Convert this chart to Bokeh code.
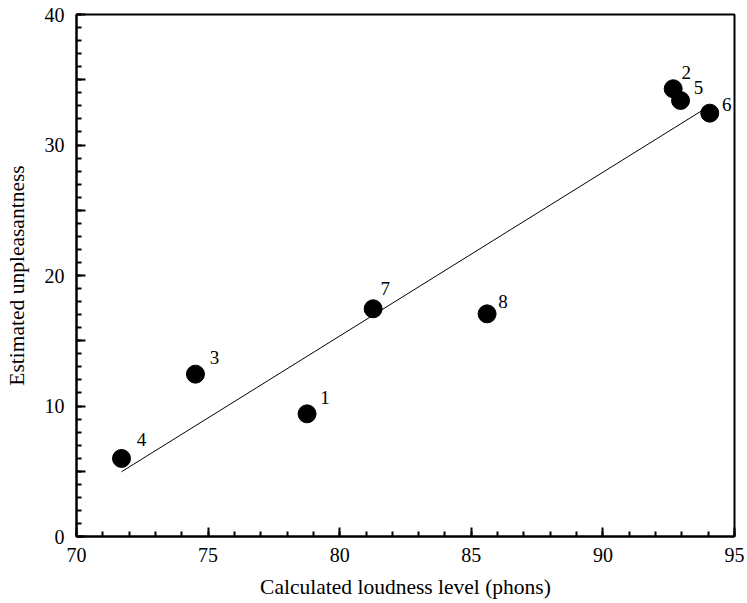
import numpy as np
from bokeh.plotting import figure
from bokeh.models import ColumnDataSource, SingleIntervalTicker, Range1d
from bokeh.core.properties import value
from bokeh.embed import file_html
from bokeh.resources import INLINE

# Calculated loudness level (phons) vs. estimated unpleasantness for eight sounds
sound_ids = ["1", "2", "3", "4", "5", "6", "7", "8"]
loudness = [78.76, 92.67, 74.52, 71.71, 92.95, 94.06, 81.27, 85.60]
unpleasantness = [9.40, 34.31, 12.44, 5.98, 33.41, 32.44, 17.45, 17.06]

# label offsets (screen pixels, right / up) for each numbered point
label_dx = [18, 13, 19, 20, 18, 17, 12, 16]
label_dy = [16, 16, 17, 19, 13, 9, 20, 12]

y_tick_labels = {0: "0", 10: "10", 20: "20", 30: "30", 40: "40",
                 5: "", 15: "", 25: "", 35: ""}

FONT = "Liberation Serif"

src = ColumnDataSource(dict(x=loudness, y=unpleasantness, id=sound_ids,
                            dx=label_dx, dy=[-v for v in label_dy]))

p = figure(width=747, height=603, output_backend="svg", toolbar_location=None,
           x_range=Range1d(70, 95), y_range=Range1d(0, 40),
           min_border_left=76, min_border_right=13,
           min_border_top=14, min_border_bottom=67)

p.xgrid.visible = False
p.ygrid.visible = False
p.background_fill_color = "white"
p.border_fill_color = "white"
p.outline_line_color = "black"
p.outline_line_width = 2

# least-squares fit through the points, drawn over the data span
slope, intercept = np.polyfit(loudness, unpleasantness, 1)
fit_x = [min(loudness), max(loudness)]
fit_y = [slope * v + intercept for v in fit_x]
p.line(fit_x, fit_y, line_color="black", line_width=1)

p.scatter("x", "y", source=src, size=18, color="black")

p.text("x", "y", text="id", source=src, x_offset="dx", y_offset="dy",
       text_font=value(FONT), text_font_size="19px", text_color="black",
       text_align="center", text_baseline="middle")

p.xaxis.ticker = SingleIntervalTicker(interval=5, num_minor_ticks=5)
p.yaxis.ticker = SingleIntervalTicker(interval=5, num_minor_ticks=5)
p.yaxis.major_label_overrides = y_tick_labels

for ax in (p.xaxis, p.yaxis):
    ax.axis_line_color = "black"
    ax.axis_line_width = 2
    ax.major_tick_line_color = "black"
    ax.major_tick_line_width = 2
    ax.minor_tick_line_color = "black"
    ax.minor_tick_line_width = 2
    ax.major_tick_in = 9
    ax.major_tick_out = 0
    ax.minor_tick_in = 5
    ax.minor_tick_out = 0
    ax.major_label_text_font = FONT
    ax.major_label_text_font_size = "20px"
    ax.major_label_text_color = "black"
    ax.axis_label_text_font = FONT
    ax.axis_label_text_font_size = "21.5px"
    ax.axis_label_text_font_style = "normal"
    ax.axis_label_text_color = "black"

p.xaxis.axis_label = "Calculated loudness level (phons)"
p.yaxis.axis_label = "Estimated unpleasantness"
p.xaxis.major_label_standoff = 11
p.yaxis.major_label_standoff = 12
p.xaxis.axis_label_standoff = 10
p.yaxis.axis_label_standoff = 13

open("out.html", "w").write(file_html(p, INLINE))
